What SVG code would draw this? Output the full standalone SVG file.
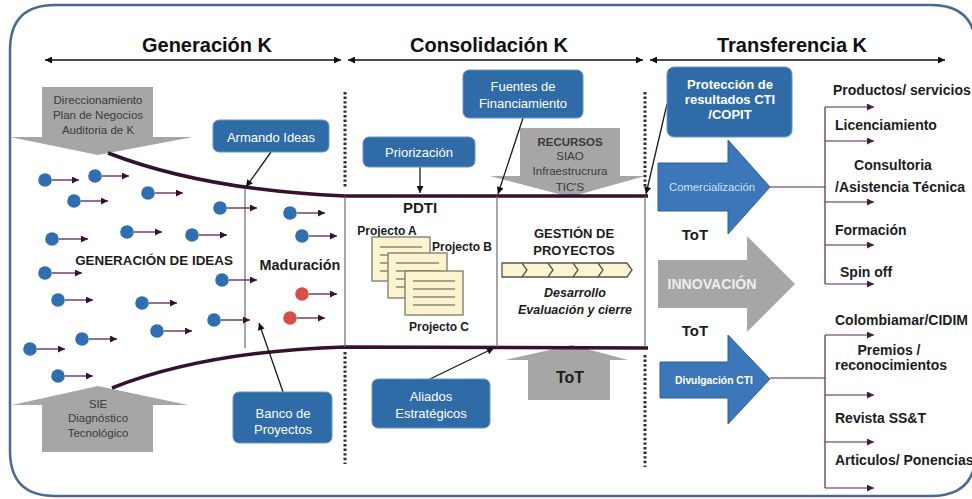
<svg xmlns="http://www.w3.org/2000/svg" width="972" height="499" viewBox="0 0 972 499">
<defs>
<style>
text{font-family:"Liberation Sans",Arial,sans-serif}
.hdr{font-size:20px;font-weight:bold;fill:#111;text-anchor:middle}
.box{fill:#2f6ba7;stroke:#6a95c4;stroke-width:1}
.bt{fill:#fff;text-anchor:middle;font-size:13px}
.gray{fill:#a6a6a6}
.gt{fill:#3a3a3a;text-anchor:middle;font-size:11.5px}
.barrow{fill:#3c77b9;stroke:#2c5f98;stroke-width:1}
.lbl{font-size:14px;font-weight:bold;fill:#1c1c1c}
.funnel{fill:none;stroke:#35102f;stroke-width:3.5}
.dl{stroke:#5a2352;stroke-width:1.3;fill:none;marker-end:url(#dh)}
.con{stroke:#1a1a1a;stroke-width:1.3;fill:none;marker-end:url(#ah)}
.vl{stroke:#6a6a6a;stroke-width:1.2}
.dotted{stroke:#3b2149;stroke-width:3;stroke-dasharray:2.4 2.2;fill:none}
.bra{stroke:#5a2352;stroke-width:1.2;fill:none;marker-end:url(#bh)}
.br{stroke:#5a2352;stroke-width:1.2;fill:none}
.hd{stroke:#111;stroke-width:1.5;marker-start:url(#ha);marker-end:url(#ha)}
.bd{fill:#2f6eb0}
.rd{fill:#d4504a}
.doc{fill:#fcf4cf;stroke:#7a7a6a;stroke-width:1.3}
.docl{stroke:#8a8a78;stroke-width:1.5}
.bk{font-weight:bold;fill:#1c1c1c;text-anchor:middle}
</style>
<marker id="ha" viewBox="0 0 10 10" refX="10" refY="5" markerWidth="9" markerHeight="7" markerUnits="userSpaceOnUse" orient="auto-start-reverse"><path d="M0,0 L10,5 L0,10 z" fill="#111"/></marker>
<marker id="dh" viewBox="0 0 10 10" refX="10" refY="5" markerWidth="8" markerHeight="7" markerUnits="userSpaceOnUse" orient="auto"><path d="M0,0 L10,5 L0,10 z" fill="#3a0f35"/></marker>
<marker id="ah" viewBox="0 0 10 10" refX="10" refY="5" markerWidth="8" markerHeight="7" markerUnits="userSpaceOnUse" orient="auto"><path d="M0,0 L10,5 L0,10 z" fill="#111"/></marker>
<marker id="bh" viewBox="0 0 10 10" refX="10" refY="5" markerWidth="9" markerHeight="7" markerUnits="userSpaceOnUse" orient="auto"><path d="M0,0 L10,5 L0,10 z" fill="#4a1846"/></marker>
</defs>

<rect width="972" height="499" fill="#fff"/>
<path id="border" d="M10,50 Q10,5 55,5 L931,5 Q976,5 976,50 L976,451 Q976,496 931,496 L55,496 Q10,496 10,451 Z" fill="none" stroke="#4a6a94" stroke-width="2.5"/>

<g id="headers">
<text class="hdr" x="207" y="52">Generación K</text>
<text class="hdr" x="489" y="52">Consolidación K</text>
<text class="hdr" x="792" y="52">Transferencia K</text>
<line class="hd" x1="45" y1="60" x2="341" y2="60"/>
<line class="hd" x1="348" y1="60" x2="643" y2="60"/>
<line class="hd" x1="650" y1="60" x2="945" y2="60"/>
</g>

<g id="gray-arrows">
<g id="direccionamiento">
<polygon class="gray" points="42,87 153,87 153,137 193,137 98,155 10,137 42,137"/>
<text class="gt" x="98" y="104" font-size="11.8">Direccionamiento</text>
<text class="gt" x="98" y="119" font-size="11.8">Plan de Negocios</text>
<text class="gt" x="98" y="134" font-size="11.8">Auditoria de K</text>
</g>
<g id="sie">
<polygon class="gray" points="98,386 188,405 153,405 153,452 42,452 42,405 12,405"/>
<text class="gt" x="98" y="408">SIE</text>
<text class="gt" x="98" y="422">Diagnóstico</text>
<text class="gt" x="98" y="437">Tecnológico</text>
</g>
<g id="recursos">
<polygon class="gray" points="520,128 620,128 620,176 645,176 570,197 490,176 520,176"/>
<text class="gt" x="570" y="146" font-weight="bold" font-size="10.5" fill="#222">RECURSOS</text>
<text class="gt" x="570" y="160">SIAO</text>
<text class="gt" x="570" y="175">Infraestrucrura</text>
<text class="gt" x="570" y="191">TIC'S</text>
</g>
<g id="tot-up">
<polygon class="gray" points="572,345 628,360 610,360 610,400 528,400 528,360 505,360"/>
<text class="bk" x="570" y="383" font-size="16">ToT</text>
</g>
</g>

<g id="connectors">
<path class="funnel" d="M108,153 C170,177 250,192 345,196 L648,196"/>
<path class="funnel" d="M112,388 C170,365 250,350 345,347 L648,348"/>
<line class="vl" x1="245" y1="188" x2="245" y2="348"/>
<line class="vl" x1="345" y1="196" x2="345" y2="347"/>
<line class="vl" x1="497" y1="196" x2="497" y2="347"/>
<line class="vl" x1="645" y1="196" x2="645" y2="347"/>
<line class="dotted" x1="345" y1="92" x2="345" y2="187"/>
<line class="dotted" x1="345" y1="352" x2="345" y2="464"/>
<line class="dotted" x1="645" y1="92" x2="645" y2="188"/>
<line class="dotted" x1="645" y1="355" x2="645" y2="467"/>
<line class="con" x1="271" y1="152" x2="246" y2="187"/>
<line class="con" x1="283" y1="392" x2="259" y2="323"/>
<line class="con" x1="420" y1="167" x2="420" y2="193"/>
<line class="con" x1="523" y1="118" x2="498" y2="194"/>
<line class="con" x1="430" y1="379" x2="494" y2="348"/>
<line class="con" x1="667" y1="104" x2="646" y2="194"/>
<line class="br" x1="770" y1="187" x2="825" y2="187"/>
<line class="br" x1="825" y1="107" x2="825" y2="284"/>
<line class="bra" x1="825" y1="107" x2="874" y2="107"/>
<line class="bra" x1="825" y1="141" x2="874" y2="141"/>
<line class="bra" x1="825" y1="202" x2="874" y2="202"/>
<line class="bra" x1="825" y1="245" x2="874" y2="245"/>
<line class="bra" x1="825" y1="284" x2="874" y2="284"/>
<line class="br" x1="770" y1="378" x2="825" y2="378"/>
<line class="br" x1="825" y1="335" x2="825" y2="488"/>
<line class="bra" x1="825" y1="335" x2="874" y2="335"/>
<line class="bra" x1="825" y1="395" x2="874" y2="395"/>
<line class="bra" x1="825" y1="442" x2="874" y2="442"/>
<line class="bra" x1="825" y1="488" x2="874" y2="488"/>
</g>

<g id="ideas">
<circle class="bd" cx="45" cy="180" r="6.8"/><line class="dl" x1="52" y1="180" x2="79" y2="180"/>
<circle class="bd" cx="95" cy="176" r="6.8"/><line class="dl" x1="102" y1="176" x2="129" y2="176"/>
<circle class="bd" cx="74" cy="201" r="6.8"/><line class="dl" x1="81" y1="201" x2="108" y2="201"/>
<circle class="bd" cx="148" cy="193" r="6.8"/><line class="dl" x1="155" y1="193" x2="183" y2="193"/>
<circle class="bd" cx="220" cy="208" r="6.8"/><line class="dl" x1="227" y1="208" x2="257" y2="208"/>
<circle class="bd" cx="290" cy="213" r="6.8"/><line class="dl" x1="297" y1="213" x2="325" y2="213"/>
<circle class="bd" cx="52" cy="239" r="6.8"/><line class="dl" x1="59" y1="239" x2="88" y2="239"/>
<circle class="bd" cx="127" cy="232" r="6.8"/><line class="dl" x1="134" y1="232" x2="162" y2="232"/>
<circle class="bd" cx="192" cy="235" r="6.8"/><line class="dl" x1="199" y1="235" x2="227" y2="235"/>
<circle class="bd" cx="302" cy="236" r="6.8"/><line class="dl" x1="309" y1="236" x2="337" y2="236"/>
<circle class="bd" cx="222" cy="280" r="6.8"/><line class="dl" x1="229" y1="280" x2="257" y2="280"/>
<circle class="bd" cx="214" cy="320" r="6.8"/><line class="dl" x1="221" y1="320" x2="250" y2="320"/>
<circle class="bd" cx="45" cy="273" r="6.8"/><line class="dl" x1="52" y1="273" x2="82" y2="273"/>
<circle class="bd" cx="58" cy="300" r="6.8"/><line class="dl" x1="65" y1="300" x2="93" y2="300"/>
<circle class="bd" cx="142" cy="303" r="6.8"/><line class="dl" x1="149" y1="303" x2="177" y2="303"/>
<circle class="bd" cx="157" cy="331" r="6.8"/><line class="dl" x1="164" y1="331" x2="192" y2="331"/>
<circle class="bd" cx="82" cy="339" r="6.8"/><line class="dl" x1="89" y1="339" x2="117" y2="339"/>
<circle class="bd" cx="30" cy="349" r="6.8"/><line class="dl" x1="37" y1="349" x2="65" y2="349"/>
<circle class="bd" cx="58" cy="376" r="6.8"/><line class="dl" x1="65" y1="376" x2="93" y2="376"/>
<circle class="rd" cx="302" cy="294" r="6.8"/><line class="dl" x1="309" y1="294" x2="337" y2="294"/>
<circle class="rd" cx="290" cy="318" r="6.8"/><line class="dl" x1="297" y1="318" x2="325" y2="318"/>
<text class="bk" x="154" y="265" font-size="13.4">GENERACIÓN DE IDEAS</text>
<text class="bk" x="300" y="270" font-size="14.4">Maduración</text>
</g>

<g id="armando-ideas">
<rect class="box" x="213" y="120" width="116" height="32" rx="6"/>
<text class="bt" x="271" y="142" font-size="13.6">Armando Ideas</text>
</g>
<g id="banco-proyectos">
<rect class="box" x="233" y="392" width="99" height="51" rx="6"/>
<text class="bt" x="283" y="418" font-size="13.6">Banco de</text>
<text class="bt" x="283" y="434" font-size="13.6">Proyectos</text>
</g>
<g id="priorizacion">
<rect class="box" x="363" y="137" width="112" height="30" rx="6"/>
<text class="bt" x="419" y="157" font-size="13.6">Priorización</text>
</g>
<g id="fuentes">
<rect class="box" x="463" y="70" width="120" height="48" rx="6"/>
<text class="bt" x="523" y="91">Fuentes de</text>
<text class="bt" x="523" y="108">Financiamiento</text>
</g>
<g id="aliados">
<rect class="box" x="372" y="379" width="118" height="49" rx="6"/>
<text class="bt" x="431" y="401" font-size="12.4">Aliados</text>
<text class="bt" x="431" y="418" font-size="12.4">Estratégicos</text>
</g>
<g id="proteccion">
<rect class="box" x="667" y="67" width="125" height="70" rx="7"/>
<text class="bt" x="730" y="89" font-size="12" font-weight="bold">Protección de</text>
<text class="bt" x="730" y="104" font-size="12" font-weight="bold">resultados CTI</text>
<text class="bt" x="730" y="119" font-size="12" font-weight="bold">/COPIT</text>
</g>

<g id="pdti">
<text class="bk" x="420" y="213" font-size="15">PDTI</text>
<text class="bk" x="387" y="235" font-size="12">Projecto A</text>
<text class="bk" x="462" y="251" font-size="12">Projecto B</text>
<g id="docs">
<rect class="doc" x="372" y="237" width="58" height="44"/>
<line class="docl" x1="380" y1="247" x2="422" y2="247"/><line class="docl" x1="380" y1="255" x2="422" y2="255"/><line class="docl" x1="380" y1="263" x2="422" y2="263"/><line class="docl" x1="380" y1="271" x2="422" y2="271"/>
<rect class="doc" x="388" y="253" width="59" height="45"/>
<line class="docl" x1="396" y1="263" x2="439" y2="263"/><line class="docl" x1="396" y1="271" x2="439" y2="271"/><line class="docl" x1="396" y1="279" x2="439" y2="279"/><line class="docl" x1="396" y1="287" x2="439" y2="287"/>
<rect class="doc" x="405" y="271" width="58" height="44"/>
<line class="docl" x1="413" y1="281" x2="455" y2="281"/><line class="docl" x1="413" y1="289" x2="455" y2="289"/><line class="docl" x1="413" y1="297" x2="455" y2="297"/><line class="docl" x1="413" y1="305" x2="455" y2="305"/>
</g>
<text class="bk" x="439" y="331" font-size="12">Projecto C</text>
</g>

<g id="gestion">
<text class="bk" x="574" y="238" font-size="13">GESTIÓN DE</text>
<text class="bk" x="574" y="255" font-size="13">PROYECTOS</text>
<path d="M502,263 L627,263 L632,270 L627,277 L502,277 Z" fill="#fcf4cf" stroke="#555" stroke-width="1.3"/>
<path d="M522,263 L527,270 L522,277 M548,263 L553,270 L548,277 M573,263 L578,270 L573,277 M598,263 L603,270 L598,277" fill="none" stroke="#555" stroke-width="1.3"/>
<text class="bk" x="575" y="297" font-size="12.5" font-style="italic">Desarrollo</text>
<text class="bk" x="575" y="314" font-size="12.5" font-style="italic">Evaluación y cierre</text>
</g>

<g id="comercializacion">
<polygon class="barrow" points="658,163 728,163 728,140 770,187 728,234 728,211 658,211"/>
<text x="712" y="191" font-size="11.3" fill="#d3e0f2" text-anchor="middle">Comercialización</text>
</g>
<g id="innovacion">
<polygon class="gray" points="658,260 747,260 747,236 795,284 747,332 747,308 658,308"/>
<text x="712" y="289" font-size="14.1" font-weight="bold" fill="#eeeeee" text-anchor="middle">INNOVACIÓN</text>
</g>
<g id="divulgacion">
<polygon class="barrow" points="660,362 728,362 728,335 770,379 728,424 728,398 660,398"/>
<text x="714" y="384" font-size="10.3" font-weight="bold" fill="#fff" text-anchor="middle">Divulgación CTI</text>
</g>
<g id="tot-labels">
<text class="bk" x="695" y="240" font-size="15">ToT</text>
<text class="bk" x="695" y="336" font-size="15">ToT</text>
</g>

<g id="outcomes">
<text class="lbl" x="833" y="95">Productos/ servicios</text>
<text class="lbl" x="835" y="130">Licenciamiento</text>
<text class="lbl" x="893" y="170" text-anchor="middle">Consultoria</text>
<text class="lbl" x="835" y="192">/Asistencia Técnica</text>
<text class="lbl" x="835" y="235">Formación</text>
<text class="lbl" x="840" y="277">Spin off</text>
<text class="lbl" x="835" y="325">Colombiamar/CIDIM</text>
<text class="lbl" x="889" y="355" text-anchor="middle">Premios /</text>
<text class="lbl" x="835" y="370">reconocimientos</text>
<text class="lbl" x="835" y="423">Revista SS&amp;T</text>
<text class="lbl" x="835" y="465">Articulos/ Ponencias</text>
</g>
</svg>
